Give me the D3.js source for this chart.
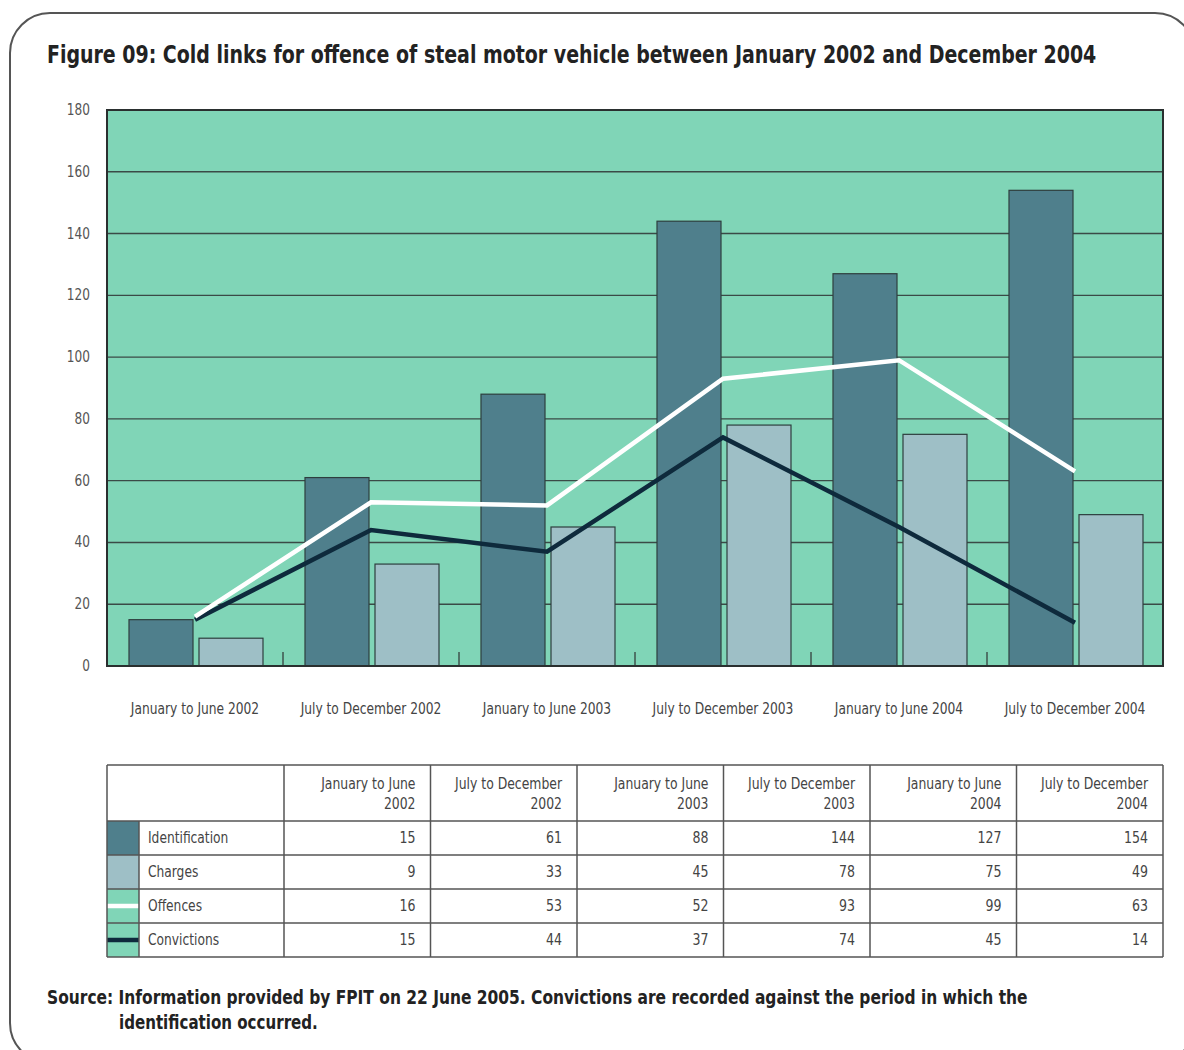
<!DOCTYPE html>
<html><head><meta charset="utf-8">
<script src="https://cdn.jsdelivr.net/npm/d3@7"></script>
<style>
body{margin:0;background:#fff;}
svg{display:block;}
text{font-family:"Liberation Sans Narrow","DejaVu Sans Condensed","Open Sans",sans-serif;}
</style></head>
<body>
<svg id="chart" width="1184" height="1050"></svg>
<script>
const categories = ["January to June 2002","July to December 2002","January to June 2003","July to December 2003","January to June 2004","July to December 2004"];
const headerLines = [["January to June","2002"],["July to December","2002"],["January to June","2003"],["July to December","2003"],["January to June","2004"],["July to December","2004"]];
const identification = [15,61,88,144,127,154];
const charges = [9,33,45,78,75,49];
const offences = [16,53,52,93,99,63];
const convictions = [15,44,37,74,45,14];
const yTicks = [0,20,40,60,80,100,120,140,160,180];
const barSeries = ["Identification","Charges"];
const lineSeries = ["Offences","Convictions"];

const colors = {Identification:"#4f7f8c", Charges:"#9ebfc6", Offences:"#ffffff", Convictions:"#0e2a3c", bg:"#80d5b7", grid:"#3a4a46"};

const svg = d3.select("#chart");

function squeeze(sel, f){
  sel.each(function(){
    const t=d3.select(this), xx=+t.attr("x");
    t.attr("transform",`translate(${xx},0) scale(${f},1) translate(${-xx},0)`);
  });
}
function fitWidth(sel, target){
  sel.each(function(){
    const w=this.getComputedTextLength();
    squeeze(d3.select(this), target/w);
  });
}

// outer rounded border
svg.append("rect").attr("x",10).attr("y",13).attr("width",1185).attr("height",1050)
  .attr("rx",40).attr("ry",40).attr("fill","none").attr("stroke","#555").attr("stroke-width",2);

const title = svg.append("text").attr("x",47).attr("y",63).attr("font-weight","bold").attr("font-size",25)
  .attr("fill","#222")
  .text("Figure 09: Cold links for offence of steal motor vehicle between January 2002 and December 2004");
fitWidth(title,1050);

const L=107, R=1163, T=110, B=666;
const x = d3.scaleBand().domain(categories).range([L,R]).paddingInner(0).paddingOuter(0);
const sub = d3.scaleBand().domain(barSeries).range([22,156]).paddingInner(6/70).paddingOuter(0);
const y = d3.scaleLinear().domain([0,180]).range([B,T]);

const g = svg.append("g");
g.append("rect").attr("x",L).attr("y",T).attr("width",R-L).attr("height",B-T).attr("fill",colors.bg);
g.selectAll(".grid").data(yTicks.slice(1,-1)).join("line")
  .attr("x1",L).attr("x2",R).attr("y1",d=>y(d)).attr("y2",d=>y(d))
  .attr("stroke",colors.grid).attr("stroke-width",1.4);
g.selectAll(".xt").data(categories.slice(1)).join("line")
  .attr("x1",d=>x(d)).attr("x2",d=>x(d)).attr("y1",B).attr("y2",B-14)
  .attr("stroke",colors.grid).attr("stroke-width",1.4);
const seriesData = {Identification:identification, Charges:charges};
barSeries.forEach(s=>{
  g.selectAll(".bar-"+s).data(seriesData[s]).join("rect")
    .attr("x",(d,i)=>x(categories[i])+sub(s)).attr("width",sub.bandwidth())
    .attr("y",d=>y(d)).attr("height",d=>B-y(d))
    .attr("fill",colors[s]).attr("stroke","#2e3e3e").attr("stroke-width",1.2);
});
const lineData = {Offences:offences, Convictions:convictions};
const lineGen = d3.line().x((d,i)=>x(categories[i])+88).y(d=>y(d));
["Convictions","Offences"].forEach(s=>{
  g.append("path").datum(lineData[s]).attr("d",lineGen).attr("fill","none")
    .attr("stroke",colors[s]).attr("stroke-width",4.5).attr("stroke-linejoin","miter");
});
g.append("rect").attr("x",L).attr("y",T).attr("width",R-L).attr("height",B-T)
  .attr("fill","none").attr("stroke","#2a2f2f").attr("stroke-width",2);
const yl = g.selectAll(".yl").data(yTicks).join("text")
  .attr("x",90).attr("y",d=>y(d)+5).attr("text-anchor","end").attr("font-size",15).attr("fill","#555")
  .text(d=>d);
squeeze(yl,0.9);
const xl = g.selectAll(".xl").data(categories).join("text")
  .attr("x",d=>x(d)+x.bandwidth()/2).attr("y",714).attr("text-anchor","middle")
  .attr("font-size",15.5).attr("fill","#444").text(d=>d);
squeeze(xl,0.88);

// table
const tT=765, hH=56, rH=34, sw=32, labW=177;
const colX = d3.scaleBand().domain(categories).range([L+labW,R]);
const rows = [
  {name:"Identification", vals:identification, type:"bar"},
  {name:"Charges", vals:charges, type:"bar"},
  {name:"Offences", vals:offences, type:"line"},
  {name:"Convictions", vals:convictions, type:"line"}];
const tb = svg.append("g");
const tB = tT+hH+rows.length*rH;
rows.forEach((r,i)=>{
  const ry = tT+hH+i*rH;
  if(r.type==="bar"){
    tb.append("rect").attr("x",L).attr("y",ry).attr("width",sw).attr("height",rH).attr("fill",colors[r.name]);
  } else {
    tb.append("rect").attr("x",L).attr("y",ry).attr("width",sw).attr("height",rH).attr("fill",colors.bg);
    tb.append("line").attr("x1",L).attr("x2",L+sw).attr("y1",ry+rH/2).attr("y2",ry+rH/2)
      .attr("stroke",colors[r.name]).attr("stroke-width",4.5);
  }
  const nm = tb.append("text").attr("x",L+sw+9).attr("y",ry+rH/2+5.5).attr("font-size",15.5).attr("fill","#444").text(r.name);
  squeeze(nm,0.88);
  const vs = tb.selectAll(".v"+i).data(r.vals).join("text")
    .attr("x",(d,j)=>colX(categories[j])+colX.bandwidth()-15).attr("y",ry+rH/2+5.5)
    .attr("text-anchor","end").attr("font-size",15.5).attr("fill","#444").text(d=>d);
  squeeze(vs,0.9);
});
headerLines.forEach((h,j)=>{
  h.forEach((t,k)=>{
    const ht = tb.append("text").attr("x",colX(categories[j])+colX.bandwidth()-15).attr("y",tT+24+k*20)
      .attr("text-anchor","end").attr("font-size",15.5).attr("fill","#444").text(t);
    squeeze(ht,0.89);
  });
});
const lc="#555";
[tT, tT+hH, ...rows.map((r,i)=>tT+hH+(i+1)*rH)].forEach(yy=>{
  tb.append("line").attr("x1",L).attr("x2",R).attr("y1",yy).attr("y2",yy).attr("stroke",lc).attr("stroke-width",1.5);
});
tb.append("line").attr("x1",L).attr("x2",L).attr("y1",tT).attr("y2",tB).attr("stroke",lc).attr("stroke-width",1.5);
tb.append("line").attr("x1",L+sw).attr("x2",L+sw).attr("y1",tT+hH).attr("y2",tB).attr("stroke",lc).attr("stroke-width",1.5);
categories.forEach(c=>{
  tb.append("line").attr("x1",colX(c)).attr("x2",colX(c)).attr("y1",tT).attr("y2",tB).attr("stroke",lc).attr("stroke-width",1.5);
});
tb.append("line").attr("x1",R).attr("x2",R).attr("y1",tT).attr("y2",tB).attr("stroke",lc).attr("stroke-width",1.5);

// source
const s1 = svg.append("text").attr("x",47).attr("y",1004).attr("font-weight","bold").attr("font-size",19).attr("fill","#222")
  .text("Source: Information provided by FPIT on 22 June 2005. Convictions are recorded against the period in which the");
fitWidth(s1,981);
const s2 = svg.append("text").attr("x",119).attr("y",1029).attr("font-weight","bold").attr("font-size",19).attr("fill","#222")
  .text("identification occurred.");
fitWidth(s2,199);
</script>
</body></html>
